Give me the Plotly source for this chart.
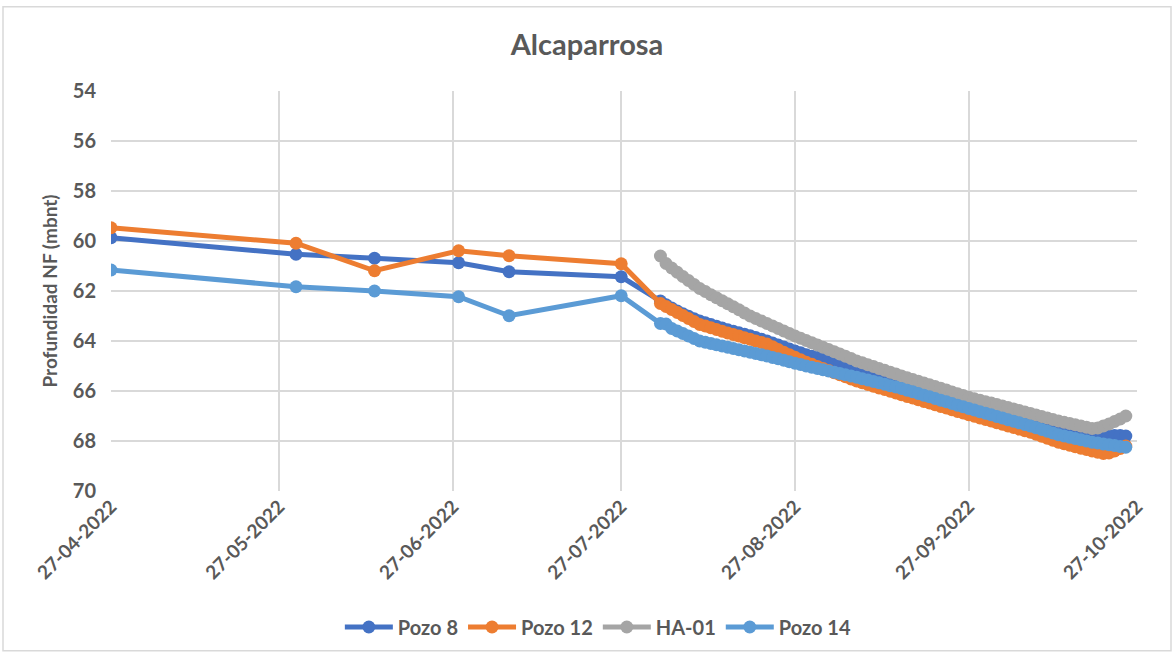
import pandas as pd
import plotly.graph_objects as go

# ---- data ----
early_dates = ["2022-04-27", "2022-05-30", "2022-06-13", "2022-06-28", "2022-07-07", "2022-07-27"]
dense_dates = [d.strftime("%Y-%m-%d") for d in pd.date_range("2022-08-03", "2022-10-25", freq="D")]

pozo8_early = [59.87, 60.53, 60.69, 60.87, 61.23, 61.43]
pozo12_early = [59.47, 60.09, 61.19, 60.39, 60.59, 60.91]
pozo14_early = [61.16, 61.83, 62.00, 62.23, 62.99, 62.19]

pozo8_dense = [
    62.40, 62.55, 62.68, 62.80, 62.91, 63.01, 63.11, 63.20, 63.27, 63.34,
    63.41, 63.48, 63.55, 63.61, 63.67, 63.73, 63.79, 63.86, 63.93, 64.00,
    64.08, 64.16, 64.24, 64.32, 64.40, 64.47, 64.55, 64.61, 64.66, 64.72,
    64.77, 64.83, 64.88, 64.94, 64.99, 65.05, 65.12, 65.19, 65.26, 65.33,
    65.39, 65.46, 65.53, 65.60, 65.67, 65.73, 65.80, 65.87, 65.93, 66.00,
    66.07, 66.13, 66.20, 66.27, 66.33, 66.40, 66.46, 66.53, 66.59, 66.65,
    66.72, 66.78, 66.85, 66.91, 66.97, 67.04, 67.10, 67.17, 67.24, 67.31,
    67.38, 67.45, 67.50, 67.55, 67.60, 67.65, 67.70, 67.75, 67.78, 67.80,
    67.80, 67.78, 67.78, 67.80,
]
pozo12_dense = [
    62.50, 62.62, 62.74, 62.86, 62.98, 63.10, 63.22, 63.34, 63.40, 63.47,
    63.54, 63.61, 63.68, 63.74, 63.80, 63.87, 63.93, 64.00, 64.06, 64.12,
    64.23, 64.34, 64.45, 64.55, 64.65, 64.75, 64.85, 64.93, 65.02, 65.10,
    65.18, 65.27, 65.35, 65.43, 65.52, 65.60, 65.67, 65.74, 65.81, 65.88,
    65.94, 66.01, 66.08, 66.15, 66.22, 66.28, 66.35, 66.42, 66.48, 66.55,
    66.62, 66.68, 66.75, 66.82, 66.88, 66.95, 67.01, 67.08, 67.14, 67.20,
    67.27, 67.33, 67.40, 67.46, 67.52, 67.59, 67.65, 67.73, 67.81, 67.89,
    67.97, 68.05, 68.11, 68.17, 68.23, 68.29, 68.34, 68.40, 68.45, 68.50,
    68.48, 68.40, 68.30, 68.20,
]
ha01_dense = [
    60.60, 60.90, 61.08, 61.25, 61.42, 61.58, 61.74, 61.90, 62.02, 62.15,
    62.27, 62.39, 62.51, 62.63, 62.75, 62.88, 63.00, 63.10, 63.20, 63.30,
    63.40, 63.50, 63.60, 63.70, 63.80, 63.89, 63.98, 64.07, 64.16, 64.25,
    64.34, 64.43, 64.52, 64.61, 64.70, 64.80, 64.87, 64.95, 65.02, 65.10,
    65.17, 65.25, 65.32, 65.40, 65.47, 65.54, 65.61, 65.68, 65.75, 65.82,
    65.89, 65.96, 66.04, 66.11, 66.18, 66.25, 66.31, 66.37, 66.43, 66.48,
    66.54, 66.60, 66.66, 66.72, 66.78, 66.84, 66.90, 66.96, 67.02, 67.08,
    67.14, 67.20, 67.25, 67.30, 67.35, 67.40, 67.45, 67.50, 67.48, 67.40,
    67.32, 67.22, 67.12, 67.00,
]
pozo14_dense = [
    63.30, 63.32, 63.50, 63.60, 63.70, 63.80, 63.90, 64.00, 64.05, 64.10,
    64.15, 64.20, 64.25, 64.30, 64.35, 64.40, 64.45, 64.50, 64.55, 64.60,
    64.66, 64.71, 64.77, 64.83, 64.89, 64.94, 65.00, 65.05, 65.10, 65.15,
    65.20, 65.25, 65.30, 65.35, 65.40, 65.45, 65.51, 65.56, 65.62, 65.67,
    65.73, 65.79, 65.84, 65.90, 65.97, 66.03, 66.10, 66.17, 66.23, 66.30,
    66.37, 66.43, 66.50, 66.57, 66.63, 66.70, 66.76, 66.83, 66.89, 66.95,
    67.02, 67.08, 67.15, 67.21, 67.27, 67.34, 67.40, 67.47, 67.54, 67.61,
    67.68, 67.75, 67.80, 67.85, 67.90, 67.95, 68.00, 68.05, 68.08, 68.12,
    68.15, 68.18, 68.22, 68.25,
]

tick_dates = ["2022-04-27", "2022-05-27", "2022-06-27", "2022-07-27",
              "2022-08-27", "2022-09-27", "2022-10-27"]
tick_labels = ["27-04-2022", "27-05-2022", "27-06-2022", "27-07-2022",
               "27-08-2022", "27-09-2022", "27-10-2022"]
y_ticks = [54, 56, 58, 60, 62, 64, 66, 68, 70]

series = [
    ("Pozo 8", early_dates + dense_dates, pozo8_early + pozo8_dense, "#4472C4"),
    ("Pozo 12", early_dates + dense_dates, pozo12_early + pozo12_dense, "#ED7D31"),
    ("HA-01", dense_dates, ha01_dense, "#A5A5A5"),
    ("Pozo 14", early_dates + dense_dates, pozo14_early + pozo14_dense, "#5B9BD5"),
]

FONT = "Lato"
GREY = "#595959"

fig = go.Figure()
for name, x, y, color in series:
    fig.add_trace(go.Scatter(
        x=x, y=y, name=name, mode="lines+markers",
        line=dict(color=color, width=5),
        marker=dict(color=color, size=13),
    ))

fig.update_layout(
    width=1174, height=658,
    margin=dict(l=111, r=37, t=91, b=164),
    paper_bgcolor="white", plot_bgcolor="white",
    font=dict(family=FONT, color=GREY),
    title=dict(text="Alcaparrosa", x=0.5, xanchor="center", y=0.932, yanchor="middle",
               font=dict(family=FONT, size=29, color=GREY, weight="bold")),
    legend=dict(orientation="h", x=0.475, xanchor="center", y=-0.34, yanchor="middle",
                font=dict(family=FONT, size=20, color=GREY, weight="bold"),
                itemwidth=48, tracegroupgap=0),
    showlegend=True,
)
fig.update_xaxes(
    type="date", range=["2022-04-27", "2022-10-27"],
    tickmode="array", tickvals=tick_dates, ticktext=tick_labels,
    tickangle=-45, tickfont=dict(family=FONT, size=19, color=GREY, weight="bold"),
    showgrid=True, gridcolor="#D9D9D9", gridwidth=1.5,
    showline=False, zeroline=False, ticks="",
)
fig.update_yaxes(
    range=[70, 54], tickmode="array", tickvals=y_ticks,
    tickfont=dict(family=FONT, size=20, color=GREY, weight="bold"),
    ticklabelstandoff=14,
    showgrid=True, gridcolor="#D9D9D9", gridwidth=1.5,
    showline=False, zeroline=False, ticks="", ticklen=0,
    title=dict(text="Profundidad NF (mbnt)", standoff=10,
               font=dict(family=FONT, size=19, color=GREY, weight="bold")),
)
# chart area border
fig.add_shape(type="rect", xref="paper", yref="paper",
              x0=(3 - 111) / 1026, x1=(1171 - 111) / 1026,
              y0=(494 - 655) / 403, y1=(494 - 6) / 403,
              line=dict(color="#D9D9D9", width=1.5), fillcolor="rgba(0,0,0,0)", layer="below")

fig.write_html("out.html", config={"displayModeBar": False},
               post_script="document.body.style.margin='0px';")
